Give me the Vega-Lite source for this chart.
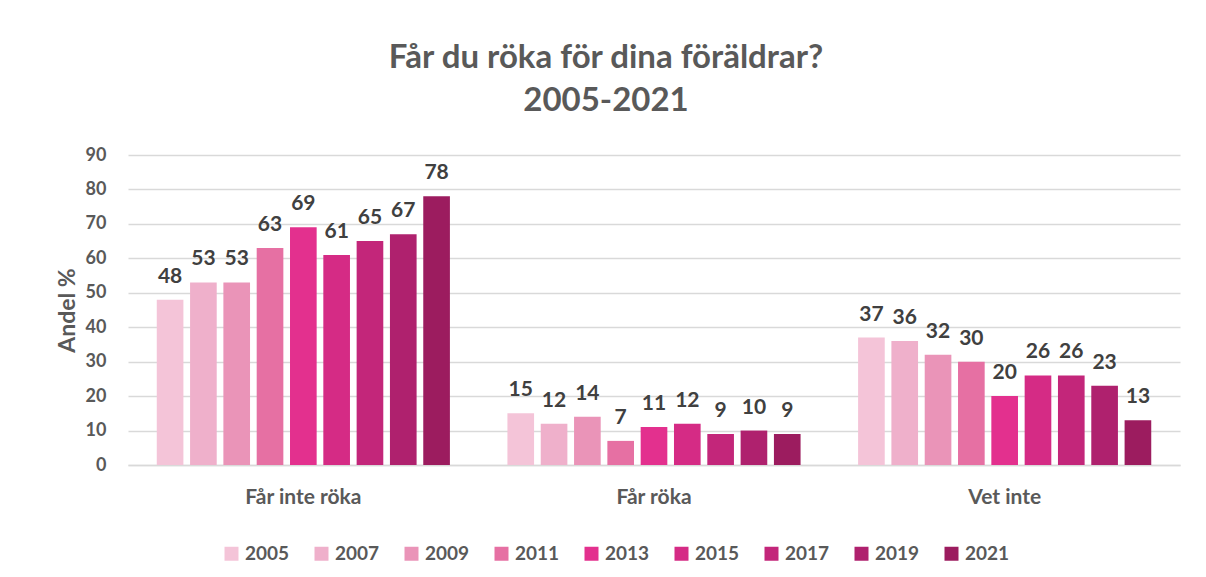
{
  "$schema": "https://vega.github.io/schema/vega-lite/v6.json",
  "width": 1052,
  "height": 310,
  "autosize": {"type": "none"},
  "padding": {"left": 128, "top": 155, "right": 26, "bottom": 112},
  "background": "white",
  "config": {
    "font": "Lato",
    "view": {"stroke": null}
  },
  "title": {
    "text": ["Får du röka för dina föräldrar?", "2005-2021"],
    "fontSize": 33,
    "fontWeight": "bold",
    "color": "#595959",
    "font": "Lato",
    "anchor": "middle",
    "dx": -48,
    "lineHeight": 43,
    "offset": 28
  },
  "data": {
    "values": [
      {"svar": "Får inte röka", "ar": "2005", "andel": 48},
      {"svar": "Får inte röka", "ar": "2007", "andel": 53},
      {"svar": "Får inte röka", "ar": "2009", "andel": 53},
      {"svar": "Får inte röka", "ar": "2011", "andel": 63},
      {"svar": "Får inte röka", "ar": "2013", "andel": 69},
      {"svar": "Får inte röka", "ar": "2015", "andel": 61},
      {"svar": "Får inte röka", "ar": "2017", "andel": 65},
      {"svar": "Får inte röka", "ar": "2019", "andel": 67},
      {"svar": "Får inte röka", "ar": "2021", "andel": 78},
      {"svar": "Får röka", "ar": "2005", "andel": 15},
      {"svar": "Får röka", "ar": "2007", "andel": 12},
      {"svar": "Får röka", "ar": "2009", "andel": 14},
      {"svar": "Får röka", "ar": "2011", "andel": 7},
      {"svar": "Får röka", "ar": "2013", "andel": 11},
      {"svar": "Får röka", "ar": "2015", "andel": 12},
      {"svar": "Får röka", "ar": "2017", "andel": 9},
      {"svar": "Får röka", "ar": "2019", "andel": 10},
      {"svar": "Får röka", "ar": "2021", "andel": 9},
      {"svar": "Vet inte", "ar": "2005", "andel": 37},
      {"svar": "Vet inte", "ar": "2007", "andel": 36},
      {"svar": "Vet inte", "ar": "2009", "andel": 32},
      {"svar": "Vet inte", "ar": "2011", "andel": 30},
      {"svar": "Vet inte", "ar": "2013", "andel": 20},
      {"svar": "Vet inte", "ar": "2015", "andel": 26},
      {"svar": "Vet inte", "ar": "2017", "andel": 26},
      {"svar": "Vet inte", "ar": "2019", "andel": 23},
      {"svar": "Vet inte", "ar": "2021", "andel": 13}
    ]
  },
  "encoding": {
    "x": {
      "field": "svar",
      "type": "nominal",
      "sort": ["Får inte röka", "Får röka", "Vet inte"],
      "scale": {"paddingInner": 0.145, "paddingOuter": 0.0725},
      "axis": {
        "title": null,
        "labelAngle": 0,
        "labelFontSize": 21,
        "labelFontWeight": "bold",
        "labelColor": "#595959",
        "labelPadding": 21,
        "ticks": false,
        "domainColor": "#d9d9d9",
        "domainWidth": 1.5
      }
    },
    "xOffset": {
      "field": "ar",
      "type": "nominal",
      "scale": {"paddingInner": 0.2, "paddingOuter": 0.1}
    },
    "y": {
      "field": "andel",
      "type": "quantitative",
      "scale": {"domain": [0, 90], "nice": false},
      "axis": {
        "title": "Andel %",
        "titleFontSize": 23,
        "titleFontWeight": "bold",
        "titleColor": "#595959",
        "titlePadding": 6,
        "values": [0, 10, 20, 30, 40, 50, 60, 70, 80, 90],
        "labelFontSize": 18,
        "labelFontWeight": "bold",
        "labelColor": "#595959",
        "labelPadding": 22,
        "ticks": false,
        "domain": false,
        "gridColor": "#d9d9d9",
        "gridWidth": 1.5
      }
    }
  },
  "layer": [
    {
      "mark": {"type": "bar"},
      "encoding": {
        "color": {
          "field": "ar",
          "type": "nominal",
          "scale": {
            "domain": ["2005", "2007", "2009", "2011", "2013", "2015", "2017", "2019", "2021"],
            "range": ["#F4C4D8", "#EFB0CB", "#EA94B8", "#E670A3", "#E3308E", "#D52B85", "#C3267A", "#AF216E", "#9C1C5F"]
          },
          "legend": {
            "title": null,
            "orient": "none",
            "direction": "horizontal",
            "legendX": 94,
            "legendY": 389,
            "symbolType": "square",
            "symbolSize": 196,
            "symbolStrokeWidth": 0,
            "labelFontSize": 19,
            "labelFontWeight": "bold",
            "labelColor": "#595959",
            "labelOffset": 4,
            "columnPadding": 22
          }
        }
      }
    },
    {
      "mark": {
        "type": "text",
        "baseline": "alphabetic",
        "dy": -17,
        "fontSize": 21,
        "fontWeight": "bold",
        "color": "#404040"
      },
      "encoding": {
        "text": {"field": "andel", "type": "quantitative"}
      }
    }
  ]
}
